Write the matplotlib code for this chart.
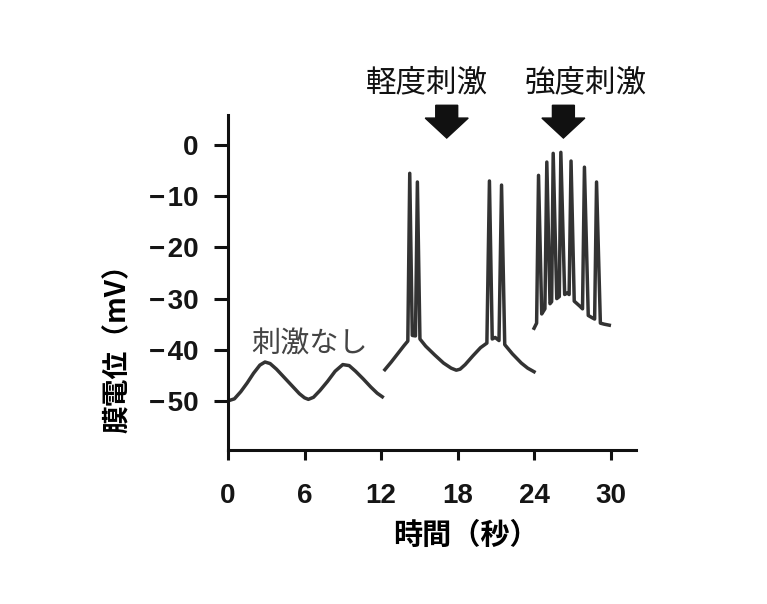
import matplotlib
matplotlib.use('Agg')
import matplotlib.pyplot as plt
from matplotlib.patches import Polygon

# 刺激なし (0-12 秒)
t_rest = [0.0, 0.5, 1.0, 1.5, 2.0, 2.5, 2.9, 3.3, 3.8, 4.4, 5.0, 5.6, 6.0, 6.3,
          6.7, 7.2, 7.8, 8.4, 9.0, 9.5, 10.0, 10.6, 11.2, 11.7, 12.1]
v_rest = [-50.0, -49.6, -48.2, -46.5, -44.6, -43.0, -42.4, -42.7, -43.8, -45.4,
          -47.0, -48.6, -49.4, -49.7, -49.3, -48.0, -46.2, -44.2, -42.9, -43.1,
          -44.2, -45.7, -47.3, -48.5, -49.2]

# 軽度刺激 (12-24 秒)
t_weak = [12.3, 12.8, 13.3, 13.8, 14.1, 14.25, 14.45, 14.7, 14.85, 15.05,
          15.5, 16.2, 16.9, 17.5, 17.9, 18.2, 18.6, 19.2, 19.8, 20.3, 20.5,
          20.72, 20.95, 21.25, 21.45, 21.7, 22.3, 23.0, 23.5, 24.0]
v_weak = [-43.9, -42.4, -40.8, -39.2, -38.3, -5.5, -37.2, -37.3, -7.2, -37.9,
          -39.3, -41.0, -42.6, -43.6, -44.0, -43.8, -42.9, -41.2, -39.6, -38.7,
          -7.0, -37.9, -37.6, -38.2, -7.8, -39.0, -40.8, -42.6, -43.6, -44.3]

# 強度刺激 (24-30 秒)
t_strong = [24.0, 24.2, 24.35, 24.6, 24.85, 25.0, 25.25, 25.38, 25.5, 25.78, 25.98,
            26.1, 26.4, 26.6, 26.75, 26.9, 27.15, 27.6, 27.8, 27.95, 28.25, 28.6,
            28.75, 28.9, 29.2, 29.5, 29.9]
v_strong = [-35.8, -34.8, -5.9, -33.0, -32.0, -3.3, -31.0, -30.6, -1.6, -30.0,
            -29.6, -1.4, -29.2, -28.9, -29.2, -3.1, -30.5, -31.5, -32.0, -4.3,
            -33.3, -33.8, -34.0, -7.2, -34.8, -35.0, -35.2]

x_ticks = [0, 6, 12, 18, 24, 30]
y_ticks = [0, -10, -20, -30, -40, -50]

arrow_t = [17.15, 26.3]
stim_labels = ['軽度刺激', '強度刺激']
stim_label_t = [15.6, 28.05]

cjk = ['Noto Sans CJK JP', 'DejaVu Sans']
plt.rcParams['font.family'] = ['Liberation Sans', 'DejaVu Sans']

fig = plt.figure(figsize=(7.67, 6.04), dpi=100)
ax = fig.add_axes([0.2973, 0.255, 0.532, 0.5546])

trace_color = '#333333'
for t, v in [(t_rest, v_rest), (t_weak, v_weak), (t_strong, v_strong)]:
    ax.plot(t, v, color=trace_color, lw=2.5, solid_joinstyle='round')

ax.set_xlim(0, 32)
ax.set_ylim(-59.6, 5.9)
ax.set_xticks(x_ticks)
ax.set_yticks(y_ticks)
# マイナス記号の後にごく少し間をあける
ax.set_yticklabels([str(y).replace('-', '\u2212\u200a') for y in y_ticks])

for side in ['top', 'right']:
    ax.spines[side].set_visible(False)
for side in ['left', 'bottom']:
    ax.spines[side].set_linewidth(2.2)
    ax.spines[side].set_color('#111111')

ax.tick_params(axis='y', length=10, width=2.2, pad=11, labelsize=20, color='#111111')
ax.tick_params(axis='x', length=7, width=2.2, pad=17, labelsize=20, color='#111111')
for lab in ax.get_xticklabels() + ax.get_yticklabels():
    lab.set_fontweight('bold')
    lab.set_color('#151515')

# 矢印
body_w, head_w = 1.72, 3.37
top_v, head_v, tip_v = 7.8, 5.3, 1.4
for t in arrow_t:
    pts = [(t - body_w / 2, top_v), (t + body_w / 2, top_v), (t + body_w / 2, head_v),
           (t + head_w / 2, head_v), (t, tip_v), (t - head_w / 2, head_v),
           (t - body_w / 2, head_v)]
    ax.add_patch(Polygon(pts, closed=True, color='#111111', clip_on=False))

for lab, t in zip(stim_labels, stim_label_t):
    ax.text(t, 12.2, lab, ha='center', va='center', fontsize=22,
            family=cjk, color='#111111', clip_on=False)

ax.text(6.4, -39.0, '刺激なし', ha='center', va='center', fontsize=21,
        family=cjk, color='#444444')

fig.text(118 / 767, 1 - 342 / 604, '膜電位（mV）', rotation=90, ha='center',
         va='center', fontsize=20, fontweight='bold', family=cjk)
fig.text(466 / 767, 1 - 535 / 604, '時間（秒）', ha='center', va='center',
         fontsize=21, fontweight='bold', family=cjk)

fig.savefig('out.png', dpi=100)
